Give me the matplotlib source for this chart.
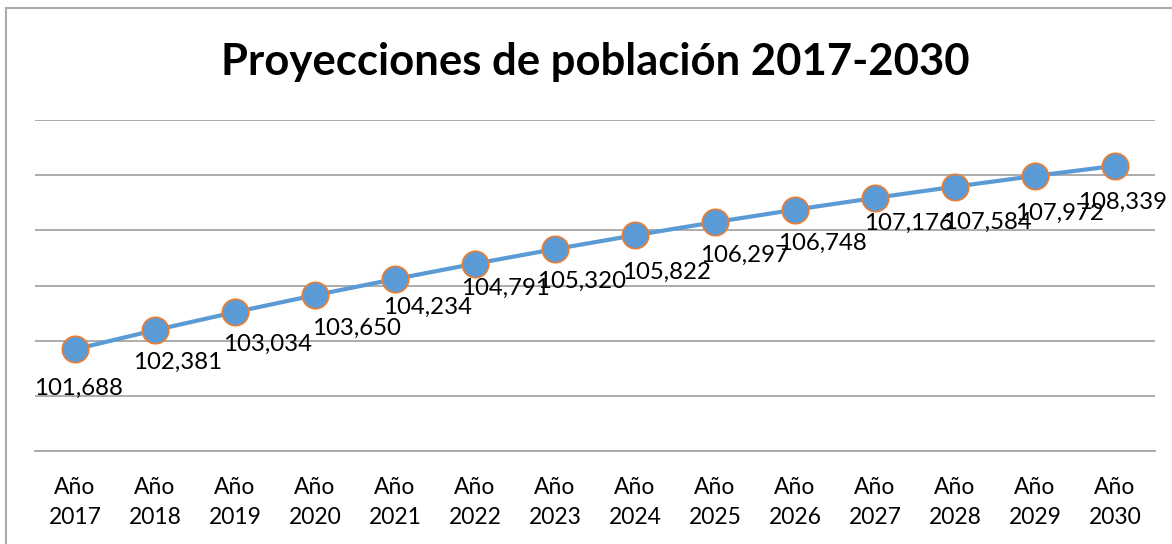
import matplotlib
matplotlib.use("Agg")
import matplotlib.pyplot as plt
from matplotlib.lines import Line2D

plt.rcParams['font.family'] = ['Lato', 'DejaVu Sans']

years = ["Año\n2017", "Año\n2018", "Año\n2019", "Año\n2020", "Año\n2021", "Año\n2022", "Año\n2023",
         "Año\n2024", "Año\n2025", "Año\n2026", "Año\n2027", "Año\n2028", "Año\n2029", "Año\n2030"]
population = [101688, 102381, 103034, 103650, 104234, 104791, 105320,
              105822, 106297, 106748, 107176, 107584, 107972, 108339]
grid_values = [98000, 100000, 102000, 104000, 106000, 108000, 110000]

# label offsets from the marker centre, in pixels (right, down)
label_dx = [3, 23, 33, 41, 33, 30, 27, 32, 29, 27, 33, 32, 24, 8]
label_dy = [39, 32, 32, 33, 28, 25, 32, 37, 33, 34, 25, 36, 37, 37]

blue = "#5B9BD5"
orange = "#ED7D31"
grid_gray = "#A6A6A6"

fig = plt.figure(figsize=(11.72, 5.44), dpi=100)
ax = fig.add_axes([35 / 1172, 1 - 451 / 544, 1120 / 1172, 331 / 544])

x = list(range(len(years)))
ax.plot(x, population, color=blue, lw=3, marker="o", markersize=19,
        markerfacecolor=blue, markeredgecolor=orange, markeredgewidth=1.2, zorder=3)

for i, v in enumerate(population):
    ax.annotate(f"{v:,}", (i, v), xytext=(label_dx[i] * 0.72, -label_dy[i] * 0.72),
                textcoords="offset points", ha="center", va="center",
                fontsize=17.3, color="black", zorder=4)

ax.set_xlim(-0.5, len(years) - 0.5)
ax.set_ylim(grid_values[0], grid_values[-1])
ax.set_yticks(grid_values)
ax.set_yticklabels([])
ax.tick_params(axis="y", length=0)
ax.set_xticks(x)
ax.set_xticklabels(years, fontsize=16.5, linespacing=1.5)
ax.tick_params(axis="x", length=0, pad=19)
ax.grid(axis="y", color=grid_gray, lw=1.3)
ax.set_axisbelow(True)
for s in ["top", "right", "left"]:
    ax.spines[s].set_visible(False)
ax.spines["bottom"].set_color(grid_gray)
ax.spines["bottom"].set_linewidth(1.3)

fig.text(595 / 1172, 1 - 62 / 544, "Proyecciones de población 2017-2030",
         ha="center", va="center", fontsize=31.4, fontweight="bold")

# chart border (top and left edges visible)
fig.add_artist(Line2D([6 / 1172, 1], [1 - 8 / 544, 1 - 8 / 544], color="#ABABAB", lw=1.5))
fig.add_artist(Line2D([6 / 1172, 6 / 1172], [0, 1 - 8 / 544], color="#ABABAB", lw=1.5))

fig.savefig("out.png", dpi=100)
